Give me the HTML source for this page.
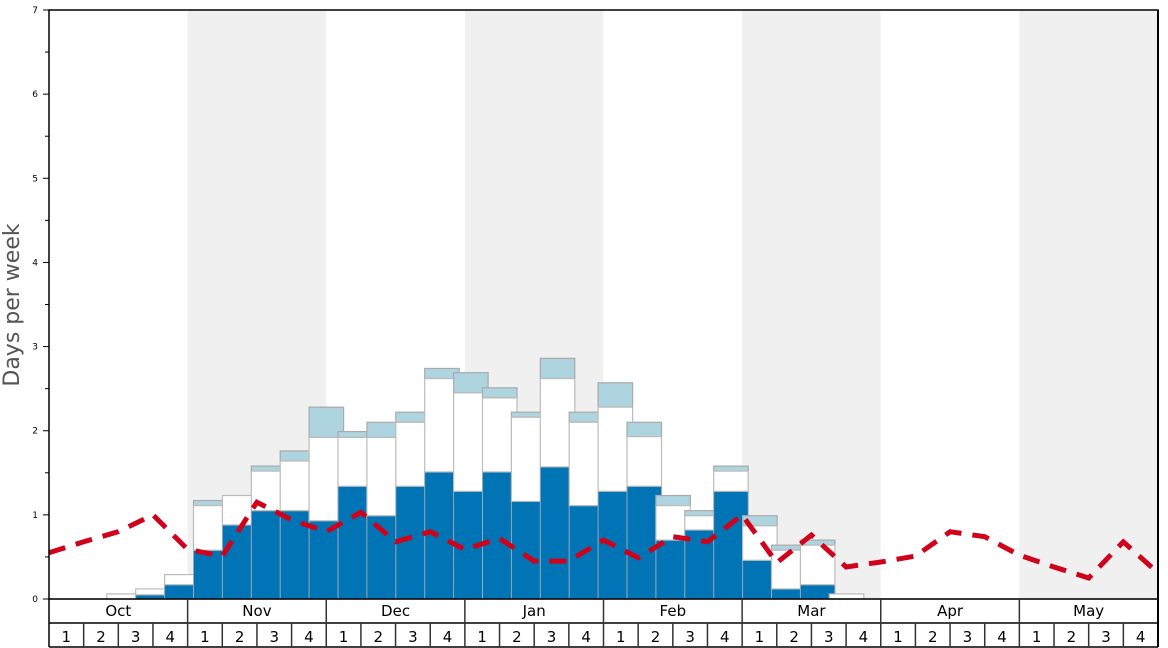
<!DOCTYPE html>
<html><head><meta charset="utf-8"><style>
html,body{margin:0;padding:0;background:#fff;}
svg{display:block;font-family:"DejaVu Sans","Liberation Sans",sans-serif;}
</style></head><body>
<svg id="chart" width="1168" height="648" viewBox="0 0 1168 648" xmlns="http://www.w3.org/2000/svg">
<text transform="translate(19,305) rotate(-90)" text-anchor="middle" font-size="22" fill="#555">Days per week</text>
</svg>
<script>
const months = ["Oct","Nov","Dec","Jan","Feb","Mar","Apr","May"];
const weekLabels = ["1","2","3","4"];
const yTicks = [0,1,2,3,4,5,6,7];
const barLow = [0,0.05,0.17,0.58,0.88,1.05,1.05,0.93,1.34,0.99,1.34,1.51,1.28,1.51,1.16,1.57,1.11,1.28,1.34,0.70,0.82,1.28,0.46,0.12,0.17,0];
const barMid = [0.06,0.12,0.29,1.11,1.23,1.52,1.64,1.92,1.92,1.92,2.10,2.62,2.45,2.39,2.16,2.62,2.10,2.28,1.93,1.11,0.99,1.52,0.87,0.58,0.64,0.06];
const barHigh = [0.06,0.12,0.29,1.17,1.23,1.58,1.76,2.28,1.99,2.10,2.22,2.74,2.69,2.51,2.22,2.86,2.22,2.57,2.10,1.23,1.05,1.58,0.99,0.64,0.70,0.06];
const avgLine = [0.55,0.68,0.80,1.00,0.59,0.51,1.15,0.94,0.80,1.03,0.68,0.80,0.59,0.72,0.45,0.45,0.70,0.49,0.74,0.68,1.00,0.43,0.76,0.38,0.44,0.51,0.80,0.74,0.52,0.38,0.25,0.68,0.31];

const NS="http://www.w3.org/2000/svg";
const svg=document.getElementById('chart');
const X0=49,X1=1158,Y0=599,Y1=10,YMAX=7;
const nWeeks=months.length*4, wk=(X1-X0)/nWeeks;
const barStep=28.9, barW=34.5, barOffset=2;
function yS(v){return Y0-(v/YMAX)*(Y0-Y1);}
function xWeek(k){return X0+k*wk;}
function xBar(i){return X0+(i+barOffset)*barStep;}
function mk(tag,attrs,parent){const e=document.createElementNS(NS,tag);for(const k in attrs)e.setAttribute(k,attrs[k]);(parent||svg).appendChild(e);return e;}

// month bands
months.forEach((m,i)=>{
  if(i%2===1){
    const r=mk('rect',{x:xWeek(i*4),y:Y1,width:wk*4,height:Y0-Y1,fill:'#f0f0f0'});
    
    
  }
});
// bars
const gb=mk('g',{});


barLow.forEach((lo,i)=>{
  const x=xBar(i);
  const g=mk('g',{},gb);
  
  
  if(lo>0){const r=mk('rect',{x:x,y:yS(lo),width:barW,height:yS(0)-yS(lo),fill:'#0074b4',stroke:'#9aa8b4','stroke-width':1},g);
    }
  const mid=barMid[i],hi=barHigh[i];
  if(hi>mid){const r=mk('rect',{x:x,y:yS(hi),width:barW,height:yS(mid)-yS(hi),fill:'#aed4e0',stroke:'#aaa','stroke-width':1.2},g);
    }
  if(mid>lo){const r=mk('rect',{x:x,y:yS(mid),width:barW,height:yS(lo)-yS(mid),fill:'#fff',stroke:'#bbb','stroke-width':1.2},g);
    }
});
// zero line
const zl=mk('line',{x1:X0,x2:X1,y1:Y0,y2:Y0,stroke:'#888','stroke-width':1.2});


// average line
const pts=avgLine.map((v,k)=>xWeek(k).toFixed(1)+','+yS(v).toFixed(1)).join(' ');
const pl=mk('polyline',{points:pts,fill:'none',stroke:'#d0021b','stroke-width':5,'stroke-dasharray':'17,11'});


// frame
const fr=mk('rect',{x:X0,y:Y1,width:X1-X0,height:Y0-Y1,fill:'none',stroke:'#000','stroke-width':1.5});


// y ticks
const gy=mk('g',{});


yTicks.forEach(v=>{
  mk('line',{x1:X0-6,x2:X0,y1:yS(v),y2:yS(v),stroke:'#000','stroke-width':1},gy);
  const t=mk('text',{x:X0-11,y:yS(v)+3,'text-anchor':'end','font-size':9,fill:'#000'},gy);
  t.textContent=v;
  
  
  if(v<YMAX) mk('line',{x1:X0-4,x2:X0,y1:yS(v+0.5),y2:yS(v+0.5),stroke:'#000','stroke-width':1},gy);
});
// x axis rows
const MR0=599,MR1=623,WR1=647;
const gx=mk('g',{});


mk('line',{x1:X0,x2:X1,y1:MR1,y2:MR1,stroke:'#000','stroke-width':1.5},gx);
mk('line',{x1:X0,x2:X1,y1:WR1,y2:WR1,stroke:'#000','stroke-width':1.5},gx);
mk('line',{x1:X0,x2:X0,y1:MR0,y2:WR1,stroke:'#000','stroke-width':1.5},gx);
mk('line',{x1:X1,x2:X1,y1:Y1,y2:WR1,stroke:'#000','stroke-width':2},gx);
months.forEach((m,i)=>{
  const xm=xWeek(i*4);
  if(i>0) mk('line',{x1:xm,x2:xm,y1:MR0,y2:MR1,stroke:'#333','stroke-width':1.5},gx);
  const t=mk('text',{x:xm+wk*2,y:616,'text-anchor':'middle','font-size':15,fill:'#000'},gx);
  t.textContent=m;
  
  
  weekLabels.forEach((w,j)=>{
    const xw=xWeek(i*4+j);
    if(i+j>0) mk('line',{x1:xw,x2:xw,y1:MR1,y2:WR1,stroke:'#333','stroke-width':1.5},gx);
    const tw=mk('text',{x:xw+wk/2,y:642,'text-anchor':'middle','font-size':15,fill:'#000'},gx);
    tw.textContent=w;
    
    
  });
});
</script>
</body></html>
